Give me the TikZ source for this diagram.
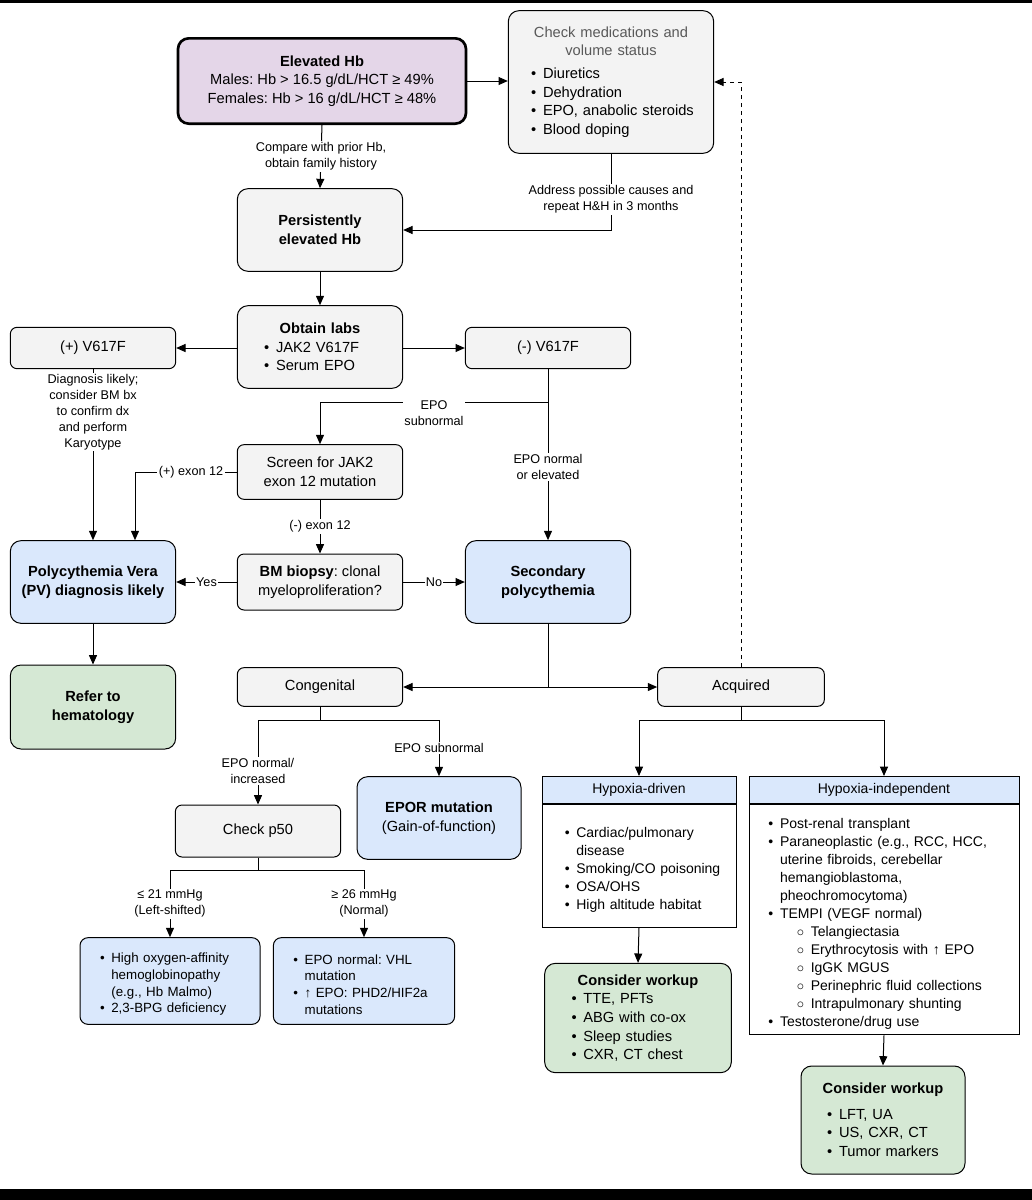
\documentclass[tikz,border=0pt]{standalone}
\usepackage{fontspec}
\setmainfont{Liberation Sans}
\usepackage{enumitem}
\usetikzlibrary{arrows.meta}
\frenchspacing
\definecolor{cPurple}{RGB}{228,214,232}
\definecolor{cGray}{RGB}{243,243,243}
\definecolor{cBlue}{RGB}{218,232,252}
\definecolor{cGreen}{RGB}{213,232,212}
\newcommand{\blist}[1]{\begin{itemize}[leftmargin=2em,itemsep=0pt,topsep=0pt,parsep=0pt,partopsep=0pt,label=\textbullet]#1\end{itemize}}
\newcommand{\olist}[1]{\begin{itemize}[leftmargin=4.2em,itemsep=0pt,topsep=0pt,parsep=0pt,partopsep=0pt,label=$\circ$]#1\end{itemize}}
\tikzset{every picture/.style={line width=0.75pt},
  box/.style={draw, rounded corners=8pt, fill=cGray, align=center, font=\fontsize{11}{14}\selectfont, inner sep=2pt},
  sq/.style={draw, fill=white, align=left, font=\fontsize{10.5}{13.5}\selectfont, inner sep=3pt},
  lbl/.style={fill=white, align=center, font=\fontsize{9.5}{12}\selectfont, inner sep=1pt},
  arr/.style={-{Triangle[length=7pt,width=6pt]}}}
\begin{document}
\begin{tikzpicture}[x=0.75pt,y=0.75pt,yscale=-1,xscale=1]
\fill[white] (0,0) rectangle (1032,1200);
\fill[black] (0,0) rectangle (1032,3);
\fill[black] (0,1189) rectangle (1032,1200);

% boxes
\node[box, fill=cPurple, line width=2pt, minimum width=216pt, minimum height=64pt] (elev) at (322,81) {\textbf{Elevated Hb}\\Males: Hb > 16.5 g/dL/HCT ≥ 49\%\\Females: Hb > 16 g/dL/HCT ≥ 48\%};
\node[box, minimum width=154pt, minimum height=107pt, text width=146pt, align=left] (meds) at (611,82) {\centering{\color{black!65}Check medications and\\ volume status}\par\vspace{3pt}\blist{\item Diuretics \item Dehydration \item EPO, anabolic steroids \item Blood doping}};
\node[box, minimum width=124pt, minimum height=62pt] (pers) at (320,230) {\textbf{Persistently}\\\textbf{elevated Hb}};
\node[box, minimum width=124pt, minimum height=62pt, text width=110pt, align=left] (labs) at (320,347) {\centering\textbf{Obtain labs}\par\blist{\item JAK2 V617F \item Serum EPO}};
\node[box, rounded corners=5pt, minimum width=124pt, minimum height=31pt] (pos) at (93,348) {(+) V617F};
\node[box, rounded corners=5pt, minimum width=124pt, minimum height=31pt] (neg) at (548,348) {(-) V617F};
\node[box, rounded corners=5pt, minimum width=124pt, minimum height=41pt] (scr) at (320,472) {Screen for JAK2\\exon 12 mutation};
\node[box, fill=cBlue, minimum width=124pt, minimum height=62pt] (pv) at (93,582) {\textbf{Polycythemia Vera}\\\textbf{(PV) diagnosis likely}};
\node[box, rounded corners=5pt, minimum width=124pt, minimum height=42pt] (bm) at (320,582) {\textbf{BM biopsy}: clonal\\myeloproliferation?};
\node[box, fill=cBlue, minimum width=124pt, minimum height=62pt] (sec) at (548,582) {\textbf{Secondary}\\\textbf{polycythemia}};
\node[box, fill=cGreen, minimum width=124pt, minimum height=63pt] (ref) at (93,707) {\textbf{Refer to}\\\textbf{hematology}};
\node[box, rounded corners=5pt, minimum width=124pt, minimum height=29pt] (cong) at (320,687) {Congenital};
\node[box, rounded corners=5pt, minimum width=125pt, minimum height=29pt] (acq) at (741,687) {Acquired};
\node[box, fill=cBlue, minimum width=123pt, minimum height=62pt] (epor) at (439,818) {\textbf{EPOR mutation}\\(Gain-of-function)};
\node[box, rounded corners=5pt, minimum width=124pt, minimum height=39pt] (p50) at (258,831) {Check p50};
\node[box, fill=cBlue, rounded corners=6pt, minimum width=135pt, minimum height=65pt, text width=128pt, align=left, font=\fontsize{10}{12.5}\selectfont] (hoa) at (170,981) {\blist{\item High oxygen-affinity hemoglobinopathy\newline (e.g., Hb Malmo) \item 2,3-BPG deficiency}};
\node[box, fill=cBlue, rounded corners=6pt, minimum width=136pt, minimum height=65pt, text width=129pt, align=left, font=\fontsize{10}{12.5}\selectfont] (vhl) at (364,981) {\blist{\item EPO normal: VHL mutation \item ↑ EPO: PHD2/HIF2a mutations}};

% hypoxia boxes
\node[sq, fill=cBlue, align=center, minimum width=145.5pt, minimum height=20pt, anchor=north] (hdh) at (639,776) {Hypoxia-driven};
\node[sq, anchor=north, minimum width=145.5pt, minimum height=92.5pt, text width=136pt] (hdb) at (hdh.south) {\blist{\item Cardiac/pulmonary disease \item Smoking/CO poisoning \item OSA/OHS \item High altitude habitat}};
\node[sq, fill=cBlue, align=center, minimum width=202.5pt, minimum height=20pt, anchor=north] (hih) at (884,776) {Hypoxia-independent};
\node[sq, anchor=north, minimum width=202.5pt, minimum height=173pt, text width=198pt, inner sep=1pt] (hib) at (hih.south) {\blist{\item Post-renal transplant \item Paraneoplastic (e.g., RCC, HCC, uterine fibroids, cerebellar hemangioblastoma, pheochromocytoma) \item TEMPI (VEGF normal)}\olist{\item Telangiectasia \item Erythrocytosis with ↑ EPO \item IgGK MGUS \item Perinephric fluid collections \item Intrapulmonary shunting}\blist{\item Testosterone/drug use}};
\node[box, fill=cGreen, minimum width=140pt, minimum height=82pt, text width=126pt, align=left] (wk1) at (638,1018) {\centering\textbf{Consider workup}\par\blist{\item TTE, PFTs \item ABG with co-ox \item Sleep studies \item CXR, CT chest}};
\node[box, fill=cGreen, minimum width=123pt, minimum height=81pt, text width=110pt, align=left] (wk2) at (883,1120) {\centering\textbf{Consider workup}\par\vspace{5pt}\blist{\item LFT, UA \item US, CXR, CT \item Tumor markers}};

% connectors
\draw[arr] (elev) -- (meds.west |- elev);
\draw[arr] (elev.south) -- (pers.north) node[lbl, midway] {Compare with prior Hb,\\obtain family history};
\draw[arr] (meds.south) |- (pers.east) node[lbl, pos=0.3] {Address possible causes and\\repeat H\&H in 3 months};
\draw[arr] (pers) -- (labs);
\draw[arr] (labs.west |- pos) -- (pos.east);
\draw[arr] (labs.east |- neg) -- (neg.west);
\draw[arr] (pos.south) -- (pv.north) node[lbl, pos=0.25] {Diagnosis likely;\\consider BM bx\\to confirm dx\\and perform\\Karyotype};
\coordinate (nb) at (548,402);
\draw[arr] (neg.south) -- (sec.north) node[lbl, pos=0.57] {EPO normal\\or elevated};
\draw[arr] (nb) -| (scr.north) node[lbl, pos=0.25, yshift=-8pt] {EPO\\subnormal};
\coordinate (pe) at (135,472);
\draw (scr.west) -- (pe) node[lbl, pos=0.45] {(+) exon 12};
\draw[arr] (pe) -- (pe |- pv.north);
\draw[arr] (scr) -- (bm) node[lbl, midway] {(-) exon 12};
\draw[arr] (bm) -- (pv) node[lbl, midway] {Yes};
\draw[arr] (bm) -- (sec) node[lbl, midway] {No};
\draw[arr] (pv) -- (ref);
\coordinate (sb) at (548,687);
\draw (sec.south) -- (sb);
\draw[arr] (sb) -- (cong);
\draw[arr] (sb) -- (acq);
\draw[arr, dashed] (acq.north) |- (meds.east);
% congenital branch
\coordinate (cb) at (320,720);
\draw (cong.south) -- (cb);
\draw[arr] (cb) -| (p50.north) node[lbl, pos=0.8] {EPO normal/\\increased};
\draw[arr] (cb) -| (epor.north) node[lbl, pos=0.75] {EPO subnormal};
\coordinate (ab) at (741,720);
\draw (acq.south) -- (ab);
\draw[arr] (ab) -| (hdh.north);
\draw[arr] (ab) -| (hih.north);
\coordinate (pb) at (258,870);
\draw (p50.south) -- (pb);
\draw[arr] (pb) -| (hoa.north) node[lbl, pos=0.75] {≤ 21 mmHg\\(Left-shifted)};
\draw[arr] (pb) -| (vhl.north) node[lbl, pos=0.75] {≥ 26 mmHg\\(Normal)};
\draw[arr] (hdb.south) -- (wk1.north);
\draw[arr] (hib.south) -- (wk2.north);
\end{tikzpicture}
\end{document}
